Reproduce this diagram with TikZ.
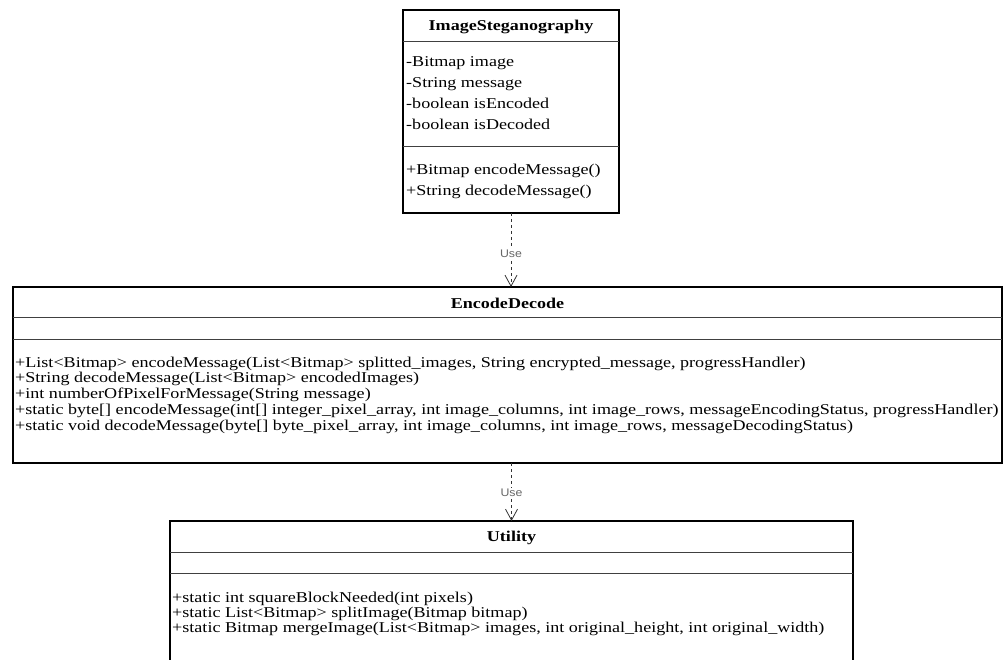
\documentclass[tikz,border=0pt]{standalone}
\usepackage{fontspec}
\setmainfont{Liberation Serif}[FakeStretch=1.205]
\setsansfont{Liberation Sans}[FakeStretch=1.12]
\usetikzlibrary{arrows.meta}
\begin{document}
\begin{tikzpicture}[x=1pt,y=-1pt,
  classbox/.style={draw=black, line width=1.1pt, inner sep=0pt, outer sep=0pt},
  sepline/.style={draw=black!75, line width=0.9pt},
  classname/.style={font=\fontsize{15}{16}\selectfont\bfseries, inner sep=0pt},
  members/.style={align=left, anchor=west, inner sep=0pt},
  uses/.style={draw=black!80, line width=0.8pt, dash pattern=on 3pt off 3pt,
    -{Straight Barb[length=11pt,width=12pt,line width=0.8pt]}},
  uselabel/.style={font=\sffamily\fontsize{11}{12}\selectfont, text=black!60, fill=white, inner sep=1pt}
]
\useasboundingbox (0,0) rectangle (1003,660);
\clip (0,0) rectangle (1003,660);

% ImageSteganography class
\node[classbox, minimum width=216pt, minimum height=203pt, anchor=north west] (img) at (403,10) {};
\draw[sepline] (403,41) -- (619,41);
\draw[sepline] (403,146) -- (619,146);
\node[classname] (imgT) at (511,27) {ImageSteganography};
\node[members, font=\fontsize{15}{21}\selectfont] (imgA) at (406,93)
  {-Bitmap image\\-String message\\-boolean isEncoded\\-boolean isDecoded};
\node[members, font=\fontsize{15}{21}\selectfont] (imgM) at (406,181)
  {+Bitmap encodeMessage()\\+String decodeMessage()};

% EncodeDecode class
\node[classbox, minimum width=989pt, minimum height=176pt, anchor=north west] (enc) at (13,287) {};
\draw[sepline] (13,317) -- (1002,317);
\draw[sepline] (13,339) -- (1002,339);
\node[classname] (encT) at (507.5,303) {EncodeDecode};
\node[members, font=\fontsize{15}{15.75}\selectfont] (encM) at (15,395)
  {+List<Bitmap> encodeMessage(List<Bitmap> splitted\_images, String encrypted\_message, progressHandler)\\
   +String decodeMessage(List<Bitmap> encodedImages)\\
   +int numberOfPixelForMessage(String message)\\
   +static byte[] encodeMessage(int[] integer\_pixel\_array, int image\_columns, int image\_rows, messageEncodingStatus, progressHandler)\\
   +static void decodeMessage(byte[] byte\_pixel\_array, int image\_columns, int image\_rows, messageDecodingStatus)};

% Utility class
\node[classbox, minimum width=683pt, minimum height=200pt, anchor=north west] (util) at (170,521) {};
\draw[sepline] (170,552) -- (853,552);
\draw[sepline] (170,573) -- (853,573);
\node[classname] (utilT) at (511.5,538) {Utility};
\node[members, font=\fontsize{15}{15}\selectfont] (utilM) at (172,614)
  {+static int squareBlockNeeded(int pixels)\\
   +static List<Bitmap> splitImage(Bitmap bitmap)\\
   +static Bitmap mergeImage(List<Bitmap> images, int original\_height, int original\_width)};

% dependencies
\draw[uses] (img.south) -- node[uselabel, pos=0.55] {Use} (img.south |- enc.north);
\draw[uses] (enc.south -| util.north) -- node[uselabel, pos=0.52] {Use} (util.north);
\end{tikzpicture}
\end{document}
